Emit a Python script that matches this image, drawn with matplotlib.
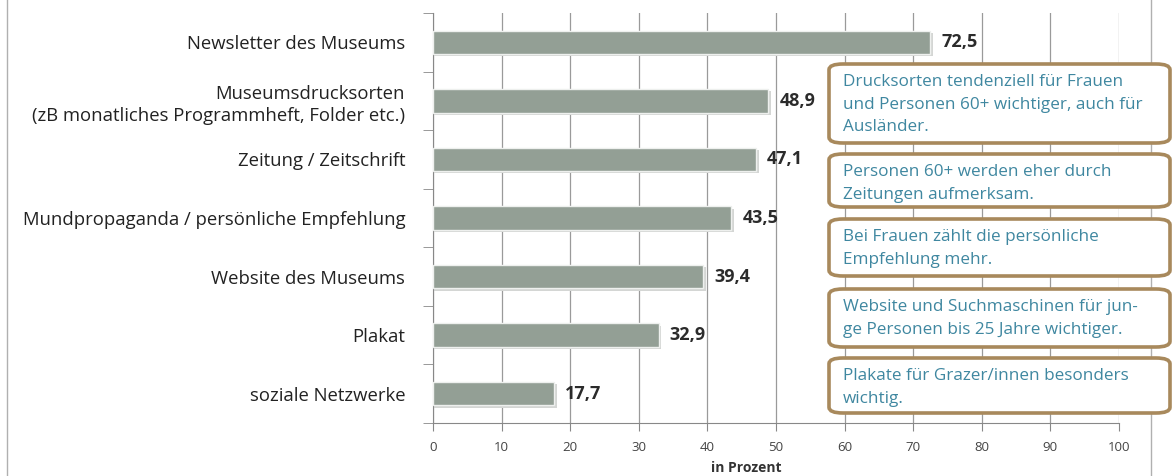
import matplotlib
matplotlib.use('Agg')
import matplotlib.pyplot as plt
from matplotlib.patches import FancyBboxPatch
from matplotlib.lines import Line2D

plt.rcParams['font.family'] = ['Open Sans', 'DejaVu Sans']

# data
categories = ['Newsletter des Museums',
              'Museumsdrucksorten\n(zB monatliches Programmheft, Folder etc.)',
              'Zeitung / Zeitschrift',
              'Mundpropaganda / persönliche Empfehlung',
              'Website des Museums',
              'Plakat',
              'soziale Netzwerke']
values = [72.5, 48.9, 47.1, 43.5, 39.4, 32.9, 17.7]
value_labels = ['72,5', '48,9', '47,1', '43,5', '39,4', '32,9', '17,7']
notes = ['Drucksorten tendenziell für Frauen\nund Personen 60+ wichtiger, auch für\nAusländer.',
         'Personen 60+ werden eher durch\nZeitungen aufmerksam.',
         'Bei Frauen zählt die persönliche\nEmpfehlung mehr.',
         'Website und Suchmaschinen für jun-\nge Personen bis 25 Jahre wichtiger.',
         'Plakate für Grazer/innen besonders\nwichtig.']
xticks = [0, 10, 20, 30, 40, 50, 60, 70, 80, 90, 100]

W, H = 1173, 476
fig = plt.figure(figsize=(W / 100, H / 100), dpi=100)
ax = fig.add_axes([433 / W, 1 - 423 / H, (1119 - 433) / W, (423 - 13) / H])

ypos = list(range(len(categories)))
# soft shadow then bars
ax.barh([y + 0.04 for y in ypos], [v + 0.4 for v in values], height=0.40,
        color='#d4d6d4', zorder=2)
ax.barh(ypos, values, height=0.40, color='#939f95', edgecolor='#eef0ee',
        linewidth=1, zorder=3)
for y, v, lab in zip(ypos, values, value_labels):
    ax.text(v + 1.6, y, lab, va='center', ha='left', fontsize=13,
            fontweight='bold', color='#2b2b2b', zorder=4)

ax.set_ylim(len(categories) - 0.5, -0.5)
ax.set_xlim(0, 100)
ax.set_yticks(ypos)
ax.set_yticklabels(categories, fontsize=13.3, color='#222222', linespacing=1.3)
ax.set_yticks([y - 0.5 for y in ypos] + [len(categories) - 0.5], minor=True)
ax.tick_params(axis='y', which='major', length=0, pad=20)
ax.tick_params(axis='y', which='minor', length=7, color='#888888')
ax.set_xticks(xticks)
ax.tick_params(axis='x', length=6, color='#888888', labelsize=9.5,
               labelcolor='#444444', pad=7)
ax.xaxis.grid(True, color='#9a9a9a', linewidth=0.9, zorder=0)
ax.set_axisbelow(True)
for s in ['top', 'right']:
    ax.spines[s].set_visible(False)
ax.spines['left'].set_color('#888888')
ax.spines['bottom'].set_color('#888888')
ax.set_xlabel('in Prozent', fontsize=10, fontweight='bold', color='#333333')
ax.xaxis.set_label_coords(0.456, -0.092)

# note boxes (pixel coords from top-left)
boxes = [(64, 143), (154, 207), (219, 276), (289, 347), (358, 413)]
for (top, bot), txt in zip(boxes, notes):
    x0, x1 = 829, 1170
    p = FancyBboxPatch((x0 / W, 1 - bot / H), (x1 - x0) / W, (bot - top) / H,
                       boxstyle='round,pad=0,rounding_size=0.012',
                       transform=fig.transFigure, facecolor='white',
                       edgecolor='#a8895c', linewidth=2.6, zorder=5)
    fig.patches.append(p)
    fig.text(843 / W, 1 - (top + 10) / H, txt, ha='left', va='top',
             fontsize=12.3, color='#3f87a0', linespacing=1.55, zorder=6)

# frame lines
fig.lines.append(Line2D([7 / W, 7 / W], [0, 1], transform=fig.transFigure,
                        color='#b0b0b0', linewidth=1))
fig.lines.append(Line2D([1151 / W, 1151 / W], [0, 1], transform=fig.transFigure,
                        color='#b0b0b0', linewidth=1, zorder=0))

plt.savefig('out.png', dpi=100)
